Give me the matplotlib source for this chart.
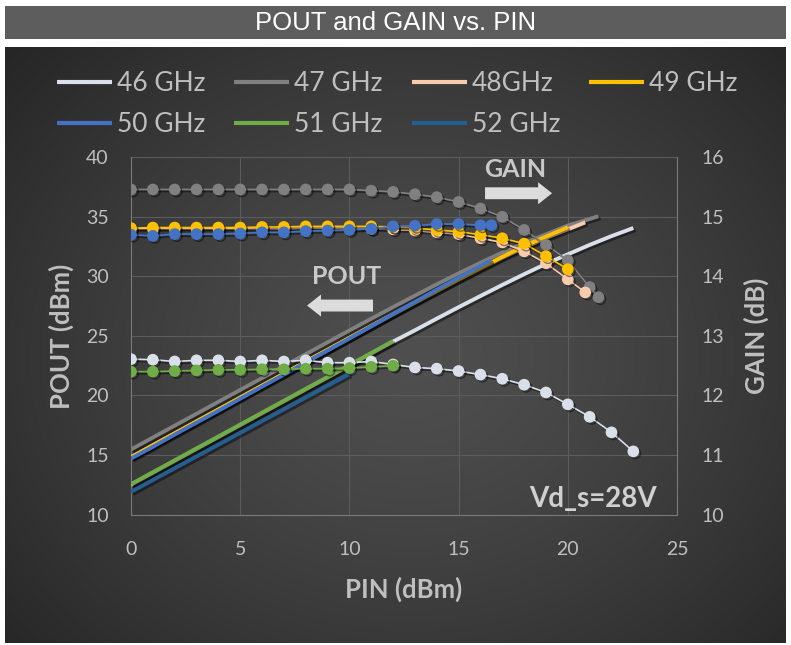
import numpy as np
import matplotlib
matplotlib.use('Agg')
import matplotlib.pyplot as plt
from matplotlib import patheffects as pe
from matplotlib.patches import Rectangle, FancyArrow
from matplotlib.lines import Line2D

# ---------------- data ----------------
labels = ['46 GHz', '47 GHz', '48GHz', '49 GHz', '50 GHz', '51 GHz', '52 GHz']
colors = ['#dae0ea', '#808080', '#f8cbad', '#ffc000', '#4472c4', '#70ad47', '#255e91']

pin_46 = [0, 1, 2, 3, 4, 5, 6, 7, 8, 9, 10, 11, 12, 13, 14, 15, 16, 17, 18, 19, 20, 21, 22, 23]
gain_46 = [12.61, 12.60, 12.57, 12.59, 12.59, 12.57, 12.59, 12.57, 12.59, 12.55, 12.55, 12.57,
           12.52, 12.47, 12.45, 12.41, 12.35, 12.28, 12.18, 12.05, 11.85, 11.64, 11.38, 11.06]
pout_46 = [12.50, 13.50, 14.50, 15.50, 16.50, 17.50, 18.50, 19.50, 20.50, 21.50, 22.50, 23.52,
           24.52, 25.47, 26.45, 27.41, 28.35, 29.28, 30.18, 31.05, 31.85, 32.64, 33.38, 34.06]

pin_47 = [0, 1, 2, 3, 4, 5, 6, 7, 8, 9, 10, 11, 12, 13, 14, 15, 16, 17, 18, 19, 20, 21, 21.4]
gain_47 = [15.46, 15.46, 15.46, 15.46, 15.46, 15.46, 15.46, 15.46, 15.46, 15.46, 15.46, 15.44,
           15.42, 15.38, 15.33, 15.25, 15.14, 15.00, 14.78, 14.53, 14.27, 13.82, 13.65]
pout_47 = [15.46, 16.46, 17.46, 18.46, 19.46, 20.46, 21.46, 22.46, 23.46, 24.46, 25.46, 26.44,
           27.42, 28.38, 29.33, 30.25, 31.14, 32.00, 32.78, 33.53, 34.27, 34.82, 35.05]

pin_48 = [0, 1, 2, 3, 4, 5, 6, 7, 8, 9, 10, 11, 12, 13, 14, 15, 16, 17, 18, 19, 20, 20.8]
gain_48 = [14.80, 14.80, 14.80, 14.80, 14.80, 14.80, 14.80, 14.80, 14.81, 14.81, 14.81, 14.80,
           14.79, 14.77, 14.74, 14.71, 14.64, 14.57, 14.42, 14.22, 13.95, 13.73]
pout_48 = [14.80, 15.80, 16.80, 17.80, 18.80, 19.80, 20.80, 21.80, 22.81, 23.81, 24.81, 25.80,
           26.79, 27.77, 28.74, 29.71, 30.64, 31.57, 32.42, 33.22, 33.95, 34.53]

pin_49 = [0, 1, 2, 3, 4, 5, 6, 7, 8, 9, 10, 11, 12, 13, 14, 15, 16, 17, 18, 19, 20]
gain_49 = [14.81, 14.82, 14.82, 14.82, 14.82, 14.82, 14.83, 14.83, 14.84, 14.84, 14.84, 14.84,
           14.83, 14.81, 14.78, 14.75, 14.70, 14.64, 14.55, 14.34, 14.12]
pout_49 = [14.81, 15.82, 16.82, 17.82, 18.82, 19.82, 20.83, 21.83, 22.84, 23.84, 24.84, 25.84,
           26.83, 27.81, 28.78, 29.75, 30.70, 31.64, 32.55, 33.34, 34.12]

pin_50 = [0, 1, 2, 3, 4, 5, 6, 7, 8, 9, 10, 11, 12, 13, 14, 15, 16, 16.5]
gain_50 = [14.70, 14.68, 14.71, 14.71, 14.71, 14.72, 14.74, 14.74, 14.76, 14.77, 14.78, 14.80,
           14.84, 14.85, 14.88, 14.88, 14.86, 14.86]
pout_50 = [14.70, 15.68, 16.71, 17.71, 18.71, 19.72, 20.74, 21.74, 22.76, 23.77, 24.78, 25.80,
           26.84, 27.85, 28.88, 29.88, 30.86, 31.36]

pin_51 = [0, 1, 2, 3, 4, 5, 6, 7, 8, 9, 10, 11, 12]
gain_51 = [12.40, 12.40, 12.41, 12.42, 12.43, 12.43, 12.44, 12.44, 12.45, 12.45, 12.46, 12.48, 12.50]
pout_51 = [12.55, 13.55, 14.55, 15.55, 16.55, 17.55, 18.55, 19.55, 20.55, 21.55, 22.55, 23.56, 24.57]

pin_52 = [0, 1, 2, 3, 4, 5, 6, 7, 8, 9, 10]
pout_52 = [11.90, 12.89, 13.88, 14.87, 15.86, 16.85, 17.84, 18.83, 19.82, 20.81, 21.80]

x_ticks = [0, 5, 10, 15, 20, 25]
y_left_ticks = [10, 15, 20, 25, 30, 35, 40]
y_right_ticks = [10, 11, 12, 13, 14, 15, 16]

pout_series = [(pin_46, pout_46), (pin_47, pout_47), (pin_48, pout_48), (pin_49, pout_49),
               (pin_50, pout_50), (pin_51, pout_51), (pin_52, pout_52)]
gain_series = [(0, pin_46, gain_46), (1, pin_47, gain_47), (2, pin_48, gain_48),
               (3, pin_49, gain_49), (4, pin_50, gain_50), (5, pin_51, gain_51)]

# ---------------- figure ----------------
W, H = 791, 645
fig = plt.figure(figsize=(W / 100, H / 100), dpi=100)
fig.patch.set_facecolor('white')


def fx(px):
    return px / W


def fy(py):
    return 1 - py / H


TXT = '#bfbfbf'
FONT = ['Lato', 'DejaVu Sans']

# title bar
fig.patches.append(Rectangle((fx(5), fy(39)), fx(786) - fx(5), fy(6) - fy(39),
                             transform=fig.transFigure, facecolor='#5d5d5d',
                             edgecolor='none', zorder=0))
fig.text(fx(396), fy(22.5), 'POUT and GAIN vs. PIN', ha='center', va='center',
         color='white', fontsize=18.5, family=['Liberation Sans', 'DejaVu Sans'])

# dark gradient background
bg = fig.add_axes([fx(5), fy(643), fx(786) - fx(5), fy(47) - fy(643)], zorder=0)
bg.axis('off')
ny, nx = 300, 400
yy, xx = np.mgrid[0:1:ny * 1j, 0:1:nx * 1j]
r = np.sqrt(((xx - 0.52) / 0.72) ** 2 + ((yy - 0.52) / 0.80) ** 2)
r = np.clip(r, 0, 1)
c0, c1 = 0x4f / 255, 0x24 / 255
v = c0 + (c1 - c0) * r ** 1.3
img = np.dstack([v, v, v])
bg.imshow(img, extent=[0, 1, 0, 1], aspect='auto', origin='upper')
bg.set_xlim(0, 1)
bg.set_ylim(0, 1)

# main axes
ax = fig.add_axes([fx(131), fy(514.5), fx(677) - fx(131), fy(157.3) - fy(514.5)], zorder=2)
ax.set_facecolor('none')
ax2 = ax.twinx()
ax2.set_facecolor('none')

shadow = [pe.SimpleLineShadow(offset=(1.5, -1.5), shadow_color='black', alpha=0.45), pe.Normal()]

for (px_, py_), c in zip(pout_series, colors):
    ax.plot(px_, py_, color=c, lw=2.8, solid_capstyle='butt', path_effects=shadow, zorder=3)

for idx, px_, g_ in gain_series:
    c = colors[idx]
    ax2.plot(px_, g_, color=c, lw=1.2, marker='o', markersize=7.4, markerfacecolor=c,
             markeredgecolor=c, path_effects=shadow, zorder=4)

ax.set_xlim(0, 25)
ax.set_ylim(10, 40)
ax2.set_ylim(10, 16)
ax.set_xticks(x_ticks)
ax.set_yticks(y_left_ticks)
ax2.set_yticks(y_right_ticks)

ax.grid(True, color='#5c5c5c', lw=0.8)
ax.set_axisbelow(True)
ax.spines['top'].set_visible(False)
for s in ['left', 'bottom', 'right']:
    ax.spines[s].set_color('#7a7a7a')
    ax.spines[s].set_linewidth(0.8)
for s in ['left', 'bottom', 'right', 'top']:
    ax2.spines[s].set_visible(False)

ax.tick_params(axis='x', length=0, pad=19, labelsize=14, labelcolor=TXT)
ax.tick_params(axis='y', length=0, pad=16, labelsize=14, labelcolor=TXT)
ax2.tick_params(axis='y', length=0, pad=17.5, labelsize=14, labelcolor=TXT)
for lab in ax.get_xticklabels() + ax.get_yticklabels() + ax2.get_yticklabels():
    lab.set_family(FONT)

ax.set_xlabel('PIN (dBm)', fontsize=18.5, fontweight='bold', color=TXT, family=FONT)
ax.set_ylabel('POUT (dBm)', fontsize=18.5, fontweight='bold', color=TXT, family=FONT)
ax2.set_ylabel('GAIN (dB)', fontsize=18.5, fontweight='bold', color=TXT, family=FONT,
               rotation=90)
ax.xaxis.set_label_coords(0.5, -0.175)
ax.yaxis.set_label_coords(-0.105, 0.5)
ax2.yaxis.set_label_coords(1.122, 0.5)

# annotations
ax.text(17.58, 38.98, 'GAIN', ha='center', va='center', fontsize=18, fontweight='bold',
        color='#c8c8c8', family=FONT, zorder=6)
ax.text(9.87, 30.0, 'POUT', ha='center', va='center', fontsize=18, fontweight='bold',
        color='#c8c8c8', family=FONT, zorder=6)
ax.text(21.15, 11.3, 'Vd_s=28V', ha='center', va='center', fontsize=20, fontweight='bold',
        color='#d0d0d0', family=FONT, zorder=6)
ax.add_patch(FancyArrow(16.21, 36.98, 3.07, 0, width=1.0, head_width=1.85, head_length=0.64,
                        length_includes_head=True, color='#dcdcdc', lw=0, zorder=6))
ax.add_patch(FancyArrow(11.08, 27.55, -3.02, 0, width=1.0, head_width=1.85, head_length=0.64,
                        length_includes_head=True, color='#dcdcdc', lw=0, zorder=6))

# legend (row-major order: 46,47,48,49 / 50,51,52)
order = [0, 4, 1, 5, 2, 6, 3]
handles = [Line2D([], [], color=colors[i], lw=3.0, solid_capstyle='butt') for i in order]
leg = fig.legend(handles, [labels[i] for i in order], ncol=4, loc='upper left',
                 bbox_to_anchor=(fx(57), fy(71)), frameon=False,
                 prop={'family': FONT, 'size': 19}, labelcolor=TXT,
                 handlelength=2.08, handletextpad=0.19, columnspacing=1.1,
                 labelspacing=0.6, borderpad=0, borderaxespad=0)

fig.savefig('out.png', dpi=100, facecolor='white')
